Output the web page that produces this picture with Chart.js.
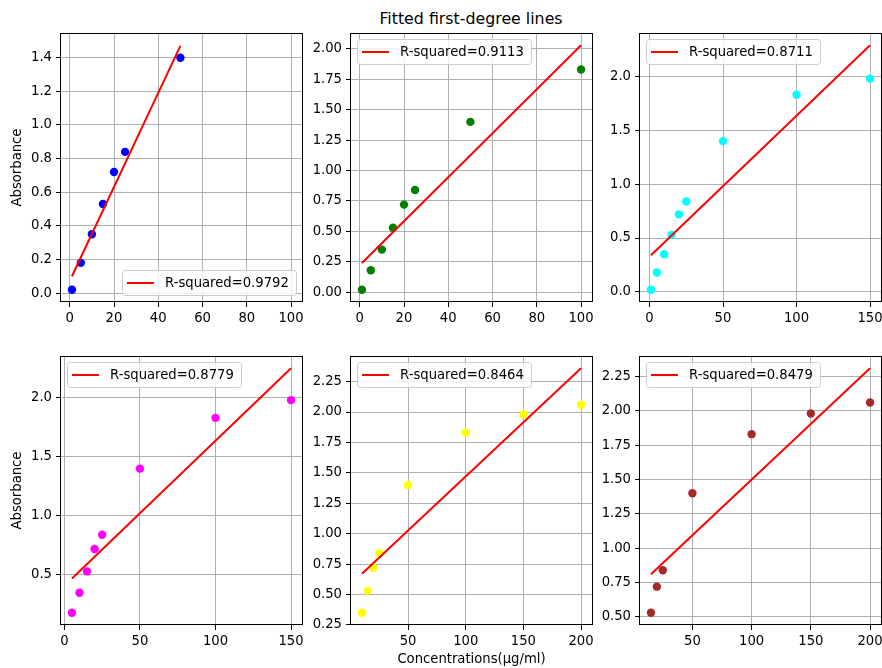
<!DOCTYPE html>
<html>
<head>
<meta charset="utf-8">
<script src="https://cdn.jsdelivr.net/npm/chart.js@4.4.0/dist/chart.umd.min.js"></script>
<style>
    body { margin: 0; background: #fff; overflow: hidden; width: 882px; height: 668px; position: relative; }
    canvas { position: absolute; }
    #title { position: absolute; top: 9px; left: 321px; width: 300px; text-align: center;
             font: 15.8px "DejaVu Sans"; line-height: 20px; color: #000; }
</style>
</head>
<body>
<div id="title">Fitted first-degree lines</div>
<script>
const concentrations = [1, 5, 10, 15, 20, 25, 50, 100, 150, 200];
const absorbance = [0.02, 0.18, 0.35, 0.53, 0.72, 0.84, 1.40, 1.83, 1.98, 2.06];

// which points each panel uses (first / last index)
const firstPoint = [0, 0, 0, 1, 2, 3];
const lastPoint = [6, 7, 8, 8, 9, 9];
const pointColors = ['#0000ff', '#008000', '#00ffff', '#ff00ff', '#ffff00', '#a52a2a'];

// fitted line ends and legend values
const fitStart = [0.10, 0.24, 0.34, 0.47, 0.67, 0.81];
const fitEnd = [1.47, 2.03, 2.29, 2.25, 2.36, 2.31];
const rSquared = ['0.9792', '0.9113', '0.8711', '0.8779', '0.8464', '0.8479'];
const legendCorner = ['lower right', 'upper left', 'upper left', 'upper left', 'upper left', 'upper left'];

// axis ranges and tick labels
const xRange = [[-3.95, 104.95], [-3.95, 104.95], [-6.45, 157.45], [-2.25, 157.25], [0.5, 209.5], [5.75, 209.25]];
const yRange = [[-0.053, 1.547], [-0.0805, 2.1305], [-0.0935, 2.4035], [0.0765, 2.3535], [0.2495, 2.4605], [0.441, 2.399]];
const xTicks = [
    [0, 20, 40, 60, 80, 100],
    [0, 20, 40, 60, 80, 100],
    [0, 50, 100, 150],
    [0, 50, 100, 150],
    [50, 100, 150, 200],
    [50, 100, 150, 200]
];
const yTicks = [
    [0.0, 0.2, 0.4, 0.6, 0.8, 1.0, 1.2, 1.4],
    [0.00, 0.25, 0.50, 0.75, 1.00, 1.25, 1.50, 1.75, 2.00],
    [0.0, 0.5, 1.0, 1.5, 2.0],
    [0.5, 1.0, 1.5, 2.0],
    [0.25, 0.50, 0.75, 1.00, 1.25, 1.50, 1.75, 2.00, 2.25],
    [0.50, 0.75, 1.00, 1.25, 1.50, 1.75, 2.00, 2.25]
];
const yDecimals = [1, 2, 1, 1, 2, 2];

// layout of the panels (plot area top-left corners)
const panels = [[61, 33], [351, 33], [640, 33], [61, 356], [351, 356], [640, 356]];
const PLOT_W = 241, PLOT_H = 269;
const PAD_L = 60, PAD_T = 6, PAD_R = 6, PAD_B = 42;
const FONT = { family: '"DejaVu Sans"', size: 13.2 };

const fitDecor = {
    id: 'fitDecor',
    afterDatasetsDraw(chart, args, opts) {
        const { ctx, chartArea: a } = chart;
        ctx.save();
        ctx.font = '13.2px "DejaVu Sans"';
        const text = 'R-squared=' + opts.label;
        const w = Math.round(43 + ctx.measureText(text).width + 7);
        const h = 25;
        let x, y;
        if (opts.corner === 'lower right') {
            x = Math.round(a.right) - 6 - w;
            y = Math.round(a.bottom) - 7 - h;
        } else {
            x = Math.round(a.left) + 6;
            y = Math.round(a.top) + 6;
        }
        ctx.beginPath();
        ctx.roundRect(x + 0.5, y + 0.5, w, h, 3);
        ctx.fillStyle = 'rgba(255,255,255,0.8)';
        ctx.fill();
        ctx.strokeStyle = '#cccccc';
        ctx.lineWidth = 1;
        ctx.stroke();

        ctx.beginPath();
        ctx.moveTo(x + 5, y + h / 2 + 0.5);
        ctx.lineTo(x + 32, y + h / 2 + 0.5);
        ctx.strokeStyle = '#ff0000';
        ctx.lineWidth = 2;
        ctx.stroke();

        ctx.fillStyle = '#000';
        ctx.textBaseline = 'middle';
        ctx.textAlign = 'left';
        ctx.fillText(text, x + 43, y + h / 2 + 1);

        // axes frame
        ctx.strokeStyle = '#000';
        ctx.lineWidth = 1;
        ctx.strokeRect(Math.round(a.left) - 0.5, Math.round(a.top) + 0.5,
            Math.round(a.width) + 1, Math.round(a.height) - 1);
        ctx.restore();
    }
};

function noScalePadding(s) {
    s.paddingTop = 0;
    s.paddingBottom = 0;
    s.paddingLeft = 0;
    s.paddingRight = 0;
}

function makePanel(i) {
    const [left, top] = panels[i];
    const canvas = document.createElement('canvas');
    canvas.width = PAD_L + PLOT_W + PAD_R;
    canvas.height = PAD_T + PLOT_H + PAD_B;
    canvas.style.left = (left - PAD_L) + 'px';
    canvas.style.top = (top - PAD_T) + 'px';
    document.body.appendChild(canvas);

    const points = [];
    for (let k = firstPoint[i]; k <= lastPoint[i]; k++) {
        points.push({ x: concentrations[k], y: absorbance[k] });
    }
    const fitLine = [
        { x: concentrations[firstPoint[i]], y: fitStart[i] },
        { x: concentrations[lastPoint[i]], y: fitEnd[i] }
    ];

    new Chart(canvas.getContext('2d'), {
        type: 'scatter',
        data: {
            datasets: [
                {
                    data: fitLine,
                    showLine: true,
                    borderColor: '#ff0000',
                    borderWidth: 2,
                    pointRadius: 0,
                    fill: false
                },
                {
                    data: points,
                    backgroundColor: pointColors[i],
                    borderWidth: 0,
                    pointRadius: 4.2
                }
            ]
        },
        options: {
            responsive: false,
            animation: false,
            events: [],
            layout: { padding: { top: PAD_T, right: PAD_R, left: 0, bottom: 0 } },
            plugins: {
                legend: { display: false },
                tooltip: { enabled: false },
                fitDecor: { label: rSquared[i], corner: legendCorner[i] }
            },
            scales: {
                x: {
                    type: 'linear',
                    min: xRange[i][0],
                    max: xRange[i][1],
                    afterBuildTicks: s => { s.ticks = xTicks[i].map(v => ({ value: v })); },
                    afterFit: s => { s.height = PAD_B; noScalePadding(s); },
                    ticks: { font: FONT, color: '#000', padding: 4, maxRotation: 0, autoSkip: false,
                             callback: v => String(v) },
                    grid: { color: '#b0b0b0', tickColor: '#000', tickLength: 5, lineWidth: 1 },
                    border: { display: false },
                    title: { display: i === 4, text: 'Concentrations(µg/ml)', font: FONT, color: '#000',
                             padding: { top: 0, bottom: 0 } }
                },
                y: {
                    type: 'linear',
                    min: yRange[i][0],
                    max: yRange[i][1],
                    afterBuildTicks: s => { s.ticks = yTicks[i].map(v => ({ value: v })); },
                    afterFit: s => { s.width = PAD_L; noScalePadding(s); },
                    ticks: { font: FONT, color: '#000', padding: 4, autoSkip: false,
                             callback: v => Number(v).toFixed(yDecimals[i]) },
                    grid: { color: '#b0b0b0', tickColor: '#000', tickLength: 5, lineWidth: 1 },
                    border: { display: false },
                    title: { display: i === 0 || i === 3, text: 'Absorbance', font: FONT, color: '#000',
                             padding: { top: 9, bottom: 0 } }
                }
            }
        },
        plugins: [fitDecor]
    });
}

for (let i = 0; i < panels.length; i++) makePanel(i);
</script>
</body>
</html>
